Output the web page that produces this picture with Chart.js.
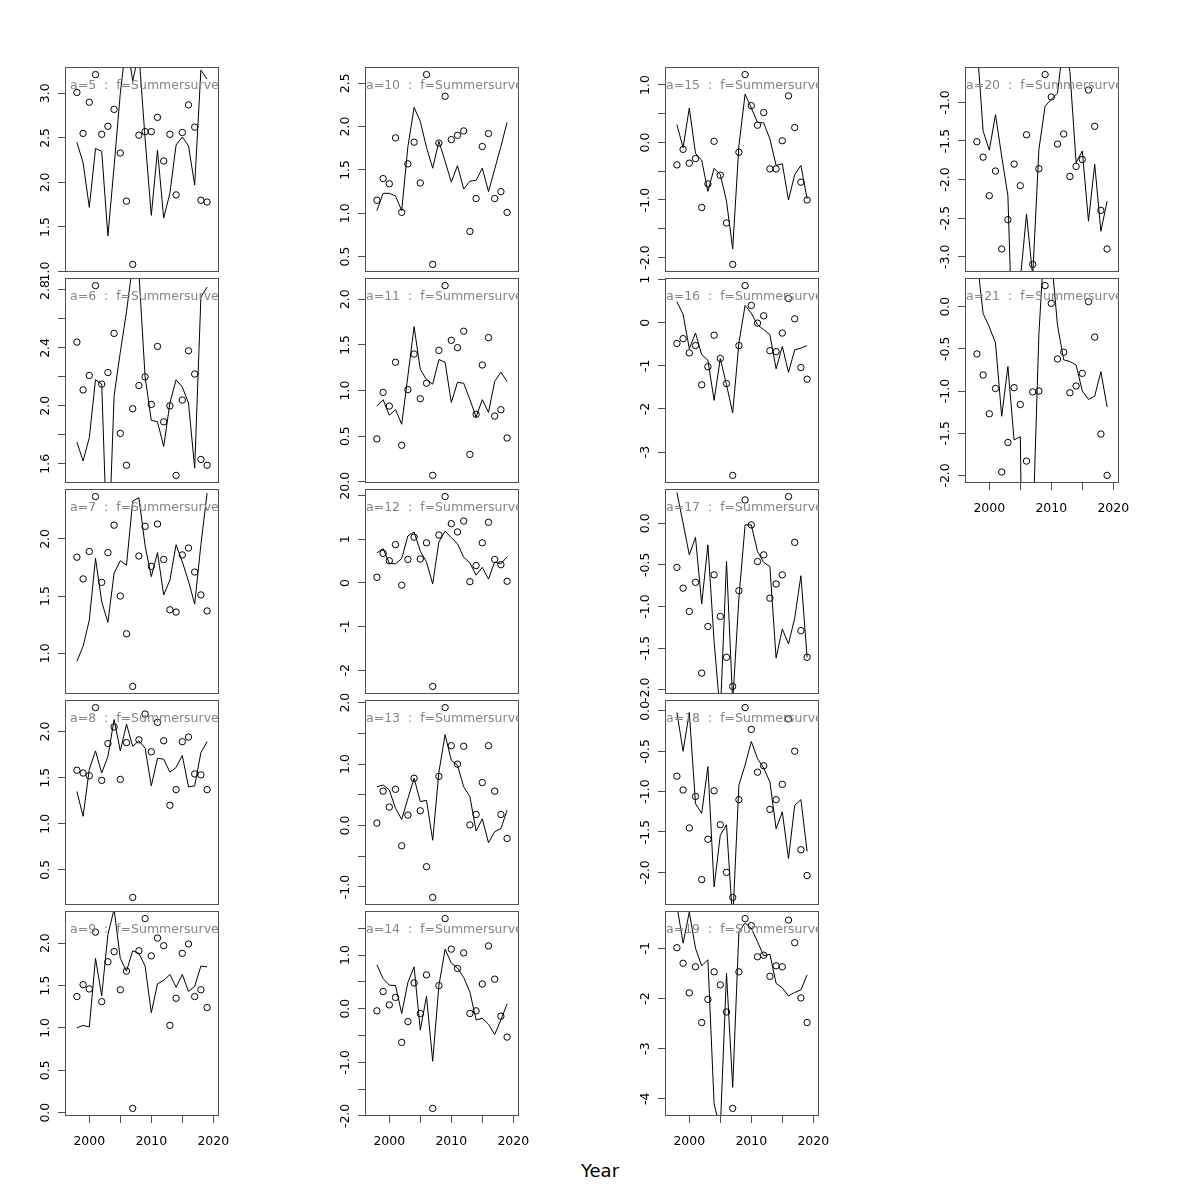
<!DOCTYPE html>
<html><head><meta charset="utf-8">
<script src="https://cdn.jsdelivr.net/npm/chart.js@4.4.0/dist/chart.umd.min.js"></script>
<style>
html,body{margin:0;padding:0;background:#fff;}
#wrap{position:relative;width:1200px;height:1200px;overflow:hidden;background:#fff;}
#wrap canvas{position:absolute;}
.lab{position:absolute;overflow:hidden;}
.lab span{position:absolute;white-space:pre;font:12.5px "DejaVu Sans";line-height:14px;color:#858585;}
#xtitle{position:absolute;left:0;width:1200px;top:1160px;text-align:center;font:18px "DejaVu Sans";line-height:22px;color:#000;}
</style></head><body><div id="wrap"><div id="xtitle">Year</div></div>
<script>
// ---------------- data ----------------
const years = [1998,1999,2000,2001,2002,2003,2004,2005,2006,2007,2008,2009,2010,2011,2012,2013,2014,2015,2016,2017,2018,2019];
const xTicks = [2000,2005,2010,2015,2020];
const xLabels = ['2000','','2010','','2020'];

const obs5  = [3.01,2.55,2.90,3.21,2.54,2.63,2.82,2.33,1.79,1.08,2.53,2.57,2.57,2.73,2.24,2.54,1.86,2.56,2.87,2.62,1.80,1.78];
const fit5  = [2.45,2.22,1.72,2.38,2.35,1.40,2.18,3.00,3.60,3.14,3.45,2.49,1.63,2.36,1.60,1.88,2.42,2.51,2.41,1.97,3.26,3.16];
const obs6  = [2.44,2.11,2.21,2.83,2.15,2.23,2.50,1.81,1.59,1.98,2.14,2.20,2.01,2.41,1.89,2.00,1.52,2.04,2.38,2.22,1.63,1.59];
const fit6  = [1.75,1.62,1.78,2.18,2.15,0.87,2.07,2.37,2.65,2.98,2.92,2.20,1.90,1.89,1.72,2.02,2.18,2.13,2.02,1.57,2.75,2.82];
const obs7  = [1.84,1.65,1.89,2.37,1.62,1.88,2.12,1.50,1.17,0.71,1.85,2.11,1.76,2.13,1.82,1.38,1.36,1.86,1.92,1.71,1.51,1.37];
const fit7  = [0.93,1.06,1.29,1.83,1.45,1.27,1.70,1.81,1.77,2.33,2.36,1.94,1.67,1.88,1.51,1.64,1.95,1.80,1.63,1.43,1.95,2.40];
const obs8  = [1.58,1.55,1.52,2.26,1.47,1.87,2.05,1.48,1.88,0.20,1.91,2.19,1.78,2.10,1.90,1.20,1.37,1.89,1.94,1.54,1.53,1.37];
const fit8  = [1.35,1.08,1.59,1.79,1.55,1.73,2.13,1.79,2.08,1.84,1.90,1.82,1.41,1.71,1.70,1.56,1.61,1.74,1.40,1.41,1.77,1.89];
const obs9  = [1.37,1.51,1.46,2.13,1.31,1.78,1.90,1.45,1.67,0.05,1.91,2.29,1.85,2.06,1.97,1.03,1.35,1.88,1.99,1.37,1.45,1.24];
const fit9  = [1.00,1.03,1.01,1.82,1.38,2.10,2.40,1.82,1.67,1.91,1.88,1.73,1.18,1.52,1.56,1.63,1.48,1.63,1.43,1.49,1.73,1.72];
const obs10 = [1.15,1.40,1.34,1.87,1.01,1.57,1.82,1.35,2.60,0.41,1.81,2.35,1.85,1.90,1.95,0.79,1.17,1.77,1.92,1.17,1.25,1.01];
const fit10 = [1.03,1.23,1.23,1.20,1.03,1.77,2.22,2.06,1.76,1.52,1.83,1.60,1.36,1.55,1.28,1.37,1.38,1.52,1.25,1.51,1.77,2.05];
const obs11 = [0.47,0.98,0.83,1.31,0.40,1.01,1.40,0.91,1.08,0.07,1.44,2.15,1.55,1.47,1.65,0.30,0.74,1.28,1.58,0.72,0.79,0.48];
const fit11 = [0.83,0.90,0.73,0.79,0.63,1.16,1.70,1.23,1.12,1.07,1.34,1.31,0.87,1.09,1.08,0.90,0.71,0.90,0.76,1.10,1.20,1.10];
const obs12 = [0.13,0.68,0.51,0.88,-0.05,0.54,1.05,0.55,0.92,-2.37,1.10,1.98,1.36,1.17,1.42,0.03,0.40,0.92,1.39,0.54,0.42,0.04];
const fit12 = [0.69,0.79,0.45,0.44,0.56,1.08,1.17,0.73,0.48,-0.02,0.94,1.19,1.04,0.90,0.59,0.46,0.18,0.36,0.09,0.48,0.44,0.60];
const obs13 = [0.04,0.56,0.30,0.59,-0.33,0.17,0.77,0.24,-0.67,-1.17,0.80,1.92,1.30,1.00,1.29,0.01,0.18,0.70,1.30,0.56,0.18,-0.21];
const fit13 = [0.63,0.66,0.58,0.28,0.10,0.44,0.77,0.39,0.41,-0.24,0.87,1.48,1.06,0.98,0.63,0.47,-0.09,0.11,-0.28,-0.10,-0.05,0.25];
const obs14 = [-0.04,0.32,0.07,0.21,-0.63,-0.24,0.48,-0.09,0.63,-1.86,0.43,1.68,1.11,0.75,1.04,-0.09,-0.04,0.46,1.17,0.55,-0.14,-0.53];
const fit14 = [0.82,0.56,0.44,0.43,-0.09,0.49,0.78,-0.40,0.23,-0.98,0.43,1.11,0.85,0.76,0.58,0.31,-0.21,-0.18,-0.29,-0.48,-0.21,0.09];
const obs15 = [-0.39,-0.12,-0.36,-0.28,-1.13,-0.72,0.02,-0.57,-1.40,-2.12,-0.17,1.18,0.64,0.30,0.52,-0.46,-0.46,0.03,0.81,0.26,-0.69,-1.00];
const fit15 = [0.31,-0.09,0.60,-0.19,-0.31,-0.85,-0.45,-0.56,-1.02,-1.85,-0.06,0.84,0.60,0.35,0.34,0.06,-0.40,-0.37,-1.00,-0.56,-0.40,-0.98];
const obs16 = [-0.48,-0.37,-0.70,-0.53,-1.44,-1.02,-0.29,-0.83,-1.41,-3.54,-0.53,0.86,0.40,-0.01,0.16,-0.65,-0.67,-0.24,0.56,0.09,-1.04,-1.31];
const fit16 = [0.49,0.19,-0.60,-0.24,-0.74,-0.87,-1.80,-0.83,-1.44,-2.09,-0.47,0.40,0.22,-0.05,-0.16,-0.28,-1.07,-0.55,-1.15,-0.63,-0.59,-0.53];
const obs17 = [-0.53,-0.78,-1.06,-0.71,-1.80,-1.24,-0.62,-1.12,-1.61,-1.96,-0.81,0.28,-0.02,-0.46,-0.38,-0.90,-0.73,-0.62,0.32,-0.23,-1.29,-1.61];
const fit17 = [0.37,0.00,-0.38,-0.17,-0.97,-0.26,-1.42,-2.30,-0.46,-2.15,-0.90,-0.02,-0.02,-0.34,-0.47,-0.52,-1.62,-1.27,-1.45,-1.14,-0.63,-1.61];
const obs18 = [-0.81,-0.98,-1.45,-1.06,-2.09,-1.59,-0.99,-1.41,-2.00,-2.31,-1.10,0.04,-0.23,-0.76,-0.68,-1.22,-1.10,-0.91,-0.10,-0.50,-1.72,-2.04];
const fit18 = [-0.02,-0.50,-0.02,-1.15,-1.27,-0.69,-2.18,-1.54,-1.41,-2.60,-0.92,-0.67,-0.38,-0.59,-0.71,-0.88,-1.46,-1.25,-1.83,-1.17,-1.10,-1.74];
const obs19 = [-0.99,-1.30,-1.89,-1.37,-2.48,-2.02,-1.47,-1.73,-2.27,-4.19,-1.47,-0.41,-0.55,-1.17,-1.14,-1.56,-1.35,-1.37,-0.44,-0.89,-1.99,-2.48];
const fit19 = [-0.15,-0.90,-0.28,-1.00,-1.35,-1.23,-4.10,-4.60,-1.50,-3.77,-0.67,-0.50,-0.60,-0.87,-1.15,-1.12,-1.70,-1.79,-1.95,-1.88,-1.83,-1.53];
const obs20 = [-1.51,-1.71,-2.21,-1.89,-2.90,-2.52,-1.80,-2.08,-1.42,-3.10,-1.86,-0.64,-0.93,-1.54,-1.41,-1.96,-1.83,-1.74,-0.84,-1.31,-2.40,-2.90];
const fit20 = [-0.23,-1.37,-1.62,-1.16,-1.70,-2.21,-4.80,-3.30,-2.45,-3.25,-1.61,-1.05,-0.96,-0.88,-0.20,-0.60,-1.78,-1.63,-2.54,-1.80,-2.67,-2.28];
const obs21 = [-0.56,-0.81,-1.27,-0.97,-1.96,-1.61,-0.96,-1.16,-1.83,-1.01,-1.00,0.25,0.04,-0.62,-0.54,-1.02,-0.94,-0.79,0.06,-0.36,-1.51,-2.00];
const fit21 = [0.58,-0.08,-0.24,-0.43,-1.30,-0.71,-1.58,-1.54,-7.00,-2.70,-0.32,0.92,0.60,-0.22,-0.63,-0.65,-0.69,-1.00,-1.10,-1.06,-0.77,-1.19];

const yTicks5  = [1.0,1.5,2.0,2.5,3.0];            const yLabels5  = ['1.0','1.5','2.0','2.5','3.0'];
const yTicks6  = [1.6,1.8,2.0,2.2,2.4,2.6,2.8];    const yLabels6  = ['1.6','','2.0','','2.4','','2.8'];
const yTicks7  = [1.0,1.5,2.0];                    const yLabels7  = ['1.0','1.5','2.0'];
const yTicks8  = [0.5,1.0,1.5,2.0];                const yLabels8  = ['0.5','1.0','1.5','2.0'];
const yTicks9  = [0.0,0.5,1.0,1.5,2.0];            const yLabels9  = ['0.0','0.5','1.0','1.5','2.0'];
const yTicks10 = [0.5,1.0,1.5,2.0,2.5];            const yLabels10 = ['0.5','1.0','1.5','2.0','2.5'];
const yTicks11 = [0.0,0.5,1.0,1.5,2.0];            const yLabels11 = ['0.0','0.5','1.0','1.5','2.0'];
const yTicks12 = [-2,-1,0,1,2];                    const yLabels12 = ['-2','-1','0','1','2'];
const yTicks13 = [-1.0,-0.5,0.0,0.5,1.0,1.5,2.0];  const yLabels13 = ['-1.0','','0.0','','1.0','','2.0'];
const yTicks14 = [-2.0,-1.5,-1.0,-0.5,0.0,0.5,1.0,1.5]; const yLabels14 = ['-2.0','','-1.0','','0.0','','1.0',''];
const yTicks15 = [-2.0,-1.5,-1.0,-0.5,0.0,0.5,1.0]; const yLabels15 = ['-2.0','','-1.0','','0.0','','1.0'];
const yTicks16 = [-3,-2,-1,0,1];                   const yLabels16 = ['-3','-2','-1','0','1'];
const yTicks17 = [-2.0,-1.5,-1.0,-0.5,0.0];        const yLabels17 = ['-2.0','-1.5','-1.0','-0.5','0.0'];
const yTicks18 = [-2.0,-1.5,-1.0,-0.5,0.0];        const yLabels18 = ['-2.0','-1.5','-1.0','-0.5','0.0'];
const yTicks19 = [-4,-3,-2,-1];                    const yLabels19 = ['-4','-3','-2','-1'];
const yTicks20 = [-3.0,-2.5,-2.0,-1.5,-1.0];       const yLabels20 = ['-3.0','-2.5','-2.0','-1.5','-1.0'];
const yTicks21 = [-2.0,-1.5,-1.0,-0.5,0.0];        const yLabels21 = ['-2.0','-1.5','-1.0','-0.5','0.0'];

const panelTitles = ['a=5','a=6','a=7','a=8','a=9','a=10','a=11','a=12','a=13','a=14','a=15','a=16','a=17','a=18','a=19','a=20','a=21'];
const fleet = 'f=Summersurvey';

// ---------------- layout ----------------
const colLeft = [65,365,665,965];
const rowTop = [67,278,489,700,911];
const PW = 154, PH = 205;
const XMIN = 1996.08, XMAX = 2020.92;
const FONT = 'DejaVu Sans';
Chart.defaults.font.family = FONT;
Chart.defaults.font.size = 12.5;
Chart.defaults.color = '#000';

const panels = [
  {obs:obs5, fit:fit5, t:yTicks5, l:yLabels5},
  {obs:obs6, fit:fit6, t:yTicks6, l:yLabels6},
  {obs:obs7, fit:fit7, t:yTicks7, l:yLabels7},
  {obs:obs8, fit:fit8, t:yTicks8, l:yLabels8},
  {obs:obs9, fit:fit9, t:yTicks9, l:yLabels9},
  {obs:obs10, fit:fit10, t:yTicks10, l:yLabels10},
  {obs:obs11, fit:fit11, t:yTicks11, l:yLabels11},
  {obs:obs12, fit:fit12, t:yTicks12, l:yLabels12},
  {obs:obs13, fit:fit13, t:yTicks13, l:yLabels13},
  {obs:obs14, fit:fit14, t:yTicks14, l:yLabels14},
  {obs:obs15, fit:fit15, t:yTicks15, l:yLabels15},
  {obs:obs16, fit:fit16, t:yTicks16, l:yLabels16},
  {obs:obs17, fit:fit17, t:yTicks17, l:yLabels17},
  {obs:obs18, fit:fit18, t:yTicks18, l:yLabels18},
  {obs:obs19, fit:fit19, t:yTicks19, l:yLabels19},
  {obs:obs20, fit:fit20, t:yTicks20, l:yLabels20},
  {obs:obs21, fit:fit21, t:yTicks21, l:yLabels21}
];
// grid position (column, row) of each panel, and whether the year axis is drawn
const place = [[0,0],[0,1],[0,2],[0,3],[0,4],[1,0],[1,1],[1,2],[1,3],[1,4],[2,0],[2,1],[2,2],[2,3],[2,4],[3,0],[3,1]];
const withYearAxis = [4,9,14,16];

const wrap = document.getElementById('wrap');
const mctx = document.createElement('canvas').getContext('2d');
mctx.font = '12.5px "' + FONT + '"';

const boxPlugin = {
  id: 'box',
  afterDraw(chart) {
    const {ctx, chartArea: a} = chart;
    ctx.save();
    ctx.strokeStyle = '#505050';
    ctx.lineWidth = 1;
    ctx.strokeRect(Math.round(a.left) + 0.5, Math.round(a.top) + 0.5, Math.round(a.right - a.left) - 1, Math.round(a.bottom - a.top) - 1);
    ctx.restore();
  }
};

// reference width for centring the panel titles
const refSpan = document.createElement('span');
refSpan.style.cssText = 'position:absolute;visibility:hidden;white-space:pre;font:12.5px "DejaVu Sans";';
refSpan.textContent = panelTitles[0] + '  :  ' + fleet;
wrap.appendChild(refSpan);
const refW = refSpan.offsetWidth;
wrap.removeChild(refSpan);

panels.forEach((p, i) => {
  const [c, r] = place[i];
  const hasX = withYearAxis.includes(i);
  const L = colLeft[c], T = rowTop[r];
  const cv = document.createElement('canvas');
  const cw = PW + 75, ch = PH + 65;
  cv.width = cw; cv.height = ch;
  cv.style.left = (L - 60) + 'px'; cv.style.top = (T - 20) + 'px';
  cv.style.width = cw + 'px'; cv.style.height = ch + 'px';
  wrap.appendChild(cv);

  const lo = Math.min(...p.obs), hi = Math.max(...p.obs);
  const ext = 0.04 * (hi - lo);
  const widest = Math.max(...p.l.map(s => mctx.measureText(s).width));
  const pad = Math.max(0, 12.3 - widest / 2);

  new Chart(cv, {
    type: 'line',
    data: {
      datasets: [
        {data: years.map((y, k) => ({x: y, y: p.fit[k]})), borderColor: '#000', borderWidth: 1, pointRadius: 0, tension: 0, fill: false, clip: 0},
        {data: years.map((y, k) => ({x: y, y: p.obs[k]})), showLine: false, pointRadius: 3.2, pointBorderWidth: 1, pointBorderColor: '#000', pointBackgroundColor: 'rgba(0,0,0,0)', clip: 0}
      ]
    },
    options: {
      responsive: false, animation: false, events: [],
      layout: {padding: {left: 0, right: 15, top: 20, bottom: hasX ? 0 : 45}},
      plugins: {legend: {display: false}, tooltip: {enabled: false}},
      scales: {
        x: {
          type: 'linear', min: XMIN, max: XMAX, display: hasX,
          afterBuildTicks: s => { s.ticks = xTicks.map(v => ({value: v})); },
          afterFit: s => { s.height = hasX ? 45 : 0; s.paddingLeft = 0; s.paddingRight = 0; s.paddingTop = 0; s.paddingBottom = 0; },
          border: {display: false},
          grid: {drawOnChartArea: false, drawTicks: true, tickLength: 7, color: '#505050', lineWidth: 1},
          ticks: {autoSkip: false, minRotation: 0, maxRotation: 0, padding: 11, color: '#000', callback: (v, k) => xLabels[k]}
        },
        y: {
          type: 'linear', min: lo - ext, max: hi + ext,
          afterBuildTicks: s => { s.ticks = p.t.map(v => ({value: v})); },
          afterFit: s => { s.width = 60; s.paddingLeft = 0; s.paddingRight = 0; s.paddingTop = 0; s.paddingBottom = 0; },
          border: {display: false},
          grid: {drawOnChartArea: false, drawTicks: true, tickLength: 7, color: '#505050', lineWidth: 1},
          ticks: {autoSkip: false, minRotation: 90, maxRotation: 90, crossAlign: 'center', padding: pad, color: '#000', callback: (v, k) => p.l[k]}
        }
      }
    },
    plugins: [boxPlugin]
  });

  const lab = document.createElement('div');
  lab.className = 'lab';
  lab.style.left = L + 'px'; lab.style.top = T + 'px';
  lab.style.width = PW + 'px'; lab.style.height = PH + 'px';
  const sp = document.createElement('span');
  sp.textContent = panelTitles[i] + '  :  ' + fleet;
  lab.appendChild(sp);
  wrap.appendChild(lab);
  const w = sp.offsetWidth;
  sp.style.left = (5 + refW / 2 - w / 2) + 'px';
  sp.style.top = '11px';
});
</script>
</body></html>
